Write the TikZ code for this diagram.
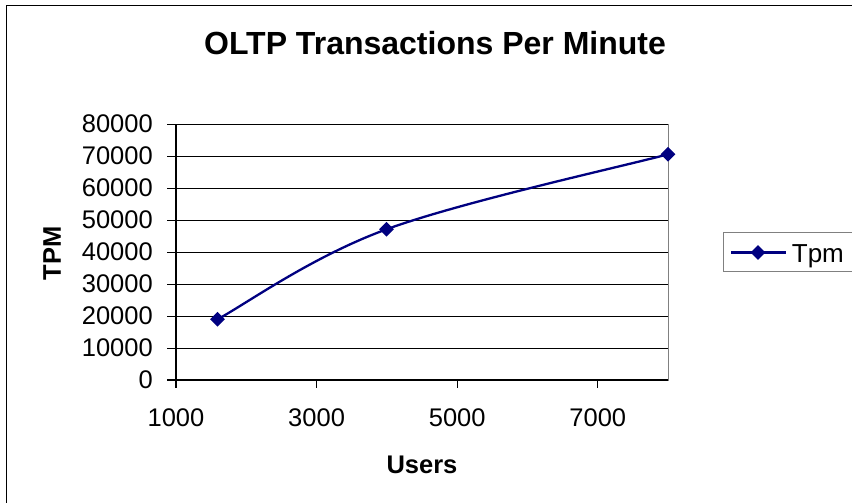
\documentclass[tikz,border=0pt]{standalone}
\usepackage{fontspec}
\setmainfont{Liberation Sans}
\usetikzlibrary{shapes.geometric}
\definecolor{navyseries}{HTML}{000080}
\begin{document}
\begin{tikzpicture}[x=1pt,y=-1pt,
  gridline/.style={black, line width=0.9pt},
  axisline/.style={black, line width=1.4pt},
  tickline/.style={black, line width=1pt},
  areaborder/.style={draw=gray, line width=1pt},
  seriesline/.style={draw=navyseries, line width=2.3pt},
  marker/.style={diamond, fill=navyseries, inner sep=0pt, minimum width=15pt, minimum height=15pt},
  ticklab/.style={font=\fontsize{25.5}{30}\selectfont, inner sep=0pt},
  axtitle/.style={font=\bfseries\fontsize{25.5}{30}\selectfont, inner sep=0pt},
]
\useasboundingbox (0,0) rectangle (852,503);
\fill[white] (0,0) rectangle (852,503);
% chart frame (only left and top visible)
\draw[black, line width=1pt] (6,520) -- (6,6) -- (870,6);
% title
\node[font=\bfseries\fontsize{32}{38}\selectfont, inner sep=0pt] (title) at (435,43.5) {OLTP Transactions Per Minute};
% plot area
\draw[areaborder] (176,124) rectangle (668,380);
\foreach \k in {0,...,7} {
  \draw[gridline] (176,124+32*\k) -- (668,124+32*\k);
}
% axes
\draw[axisline] (176,124) -- (176,388);
\draw[axisline] (167,380) -- (668,380);
\foreach \k in {0,...,8} {
  \draw[tickline] (167,124+32*\k) -- (176,124+32*\k);
}
\foreach \xx in {176,316.6,457.2,597.8} {
  \draw[tickline] (\xx,380) -- (\xx,388);
}
% y tick labels
\node[ticklab, anchor=east] (y0) at (153,380) {0};
\node[ticklab, anchor=east] (y1) at (153,348) {10000};
\node[ticklab, anchor=east] (y2) at (153,316) {20000};
\node[ticklab, anchor=east] (y3) at (153,284) {30000};
\node[ticklab, anchor=east] (y4) at (153,252) {40000};
\node[ticklab, anchor=east] (y5) at (153,220) {50000};
\node[ticklab, anchor=east] (y6) at (153,188) {60000};
\node[ticklab, anchor=east] (y7) at (153,156) {70000};
\node[ticklab, anchor=east] (y8) at (153,124) {80000};
% x tick labels
\node[ticklab, anchor=north] (x1) at (176,408) {1000};
\node[ticklab, anchor=north] (x3) at (316.6,408) {3000};
\node[ticklab, anchor=north] (x5) at (457.2,408) {5000};
\node[ticklab, anchor=north] (x7) at (597.8,408) {7000};
% axis titles
\node[axtitle, rotate=90] (ytitle) at (52,253.5) {TPM};
\node[axtitle] (xtitle) at (422,465) {Users};
% series
\coordinate (pA) at (217.5,319.3);
\coordinate (pB) at (386.5,229.3);
\coordinate (pC) at (668,154.3);
\draw[seriesline] (pA) .. controls (245.6,304.3) and (311.3,256.8) .. (pB)
  .. controls (461.6,201.8) and (621,166.8) .. (pC);
\node[marker] (mA) at (pA) {};
\node[marker] (mB) at (pB) {};
\node[marker] (mC) at (pC) {};
% legend
\draw[areaborder] (723,232.5) rectangle (880,271.5);
\coordinate (lgL) at (731,252.5);
\coordinate (lgR) at (786,252.5);
\draw[seriesline] (lgL) -- (lgR);
\node[marker] (lgM) at (758,252.5) {};
\node[font=\fontsize{26}{30}\selectfont, inner sep=0pt, anchor=base west] (lgT) at (791.7,262.3) {Tpm};
\end{tikzpicture}
\end{document}
